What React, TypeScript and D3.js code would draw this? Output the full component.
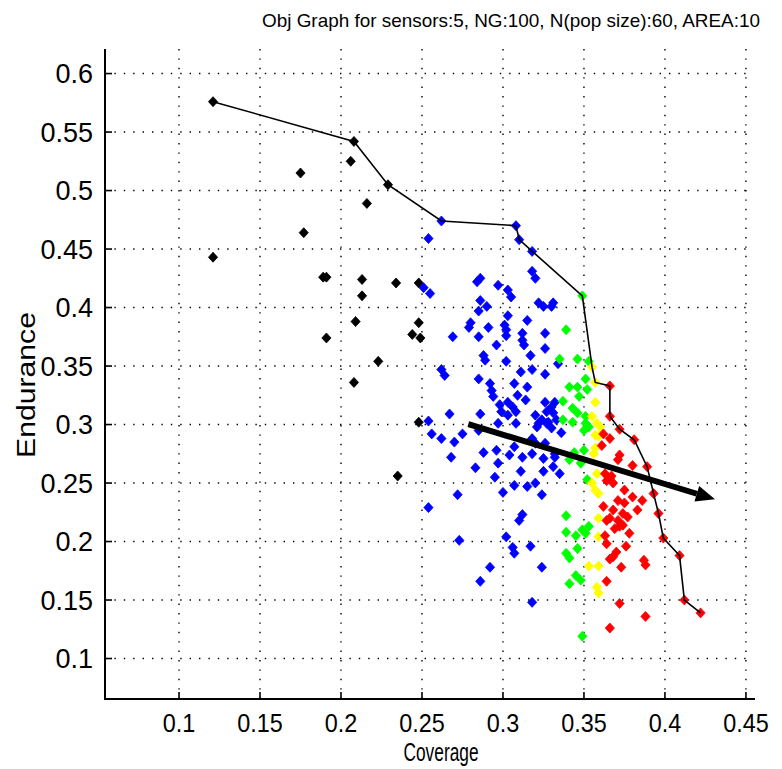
import React from "react";
import * as d3 from "d3";

const titleText = "Obj Graph for sensors:5, NG:100, N(pop size):60, AREA:10";
const xLabel = "Coverage";
const yLabel = "Endurance";
const xTicks = [0.1, 0.15, 0.2, 0.25, 0.3, 0.35, 0.4, 0.45];
const yTicks = [0.1, 0.15, 0.2, 0.25, 0.3, 0.35, 0.4, 0.45, 0.5, 0.55, 0.6];
const xTickLabels = ["0.1", "0.15", "0.2", "0.25", "0.3", "0.35", "0.4", "0.45"];
const yTickLabels = ["0.1", "0.15", "0.2", "0.25", "0.3", "0.35", "0.4", "0.45", "0.5", "0.55", "0.6"];

const blackPoints: [number, number][] = [
  [0.121, 0.576], [0.208, 0.542], [0.229, 0.505], [0.206, 0.525], [0.175, 0.515],
  [0.216, 0.489], [0.177, 0.464], [0.121, 0.443], [0.189, 0.426], [0.191, 0.426],
  [0.213, 0.424], [0.213, 0.410], [0.234, 0.421], [0.248, 0.421], [0.209, 0.388],
  [0.248, 0.387], [0.244, 0.377], [0.249, 0.374], [0.191, 0.374], [0.223, 0.354],
  [0.208, 0.336], [0.248, 0.302], [0.235, 0.256],
];

const bluePoints: [number, number][] = [
  [0.262, 0.474], [0.308, 0.470], [0.310, 0.458], [0.254, 0.459], [0.318, 0.448],
  [0.318, 0.431], [0.320, 0.425], [0.286, 0.425], [0.284, 0.422], [0.251, 0.417],
  [0.255, 0.412], [0.297, 0.419], [0.303, 0.415], [0.305, 0.409], [0.286, 0.406],
  [0.290, 0.401], [0.285, 0.397], [0.322, 0.404], [0.325, 0.401], [0.331, 0.404],
  [0.330, 0.401], [0.303, 0.393], [0.315, 0.389], [0.280, 0.387], [0.279, 0.383],
  [0.291, 0.383], [0.301, 0.385], [0.302, 0.381], [0.302, 0.376], [0.269, 0.375],
  [0.285, 0.375], [0.312, 0.378], [0.312, 0.372], [0.313, 0.368], [0.326, 0.378],
  [0.296, 0.368], [0.326, 0.365], [0.288, 0.359], [0.289, 0.355], [0.317, 0.359],
  [0.302, 0.354], [0.262, 0.347], [0.264, 0.342], [0.311, 0.345], [0.318, 0.347],
  [0.326, 0.343], [0.285, 0.339], [0.292, 0.335], [0.293, 0.329], [0.307, 0.335],
  [0.315, 0.332], [0.294, 0.324], [0.309, 0.325], [0.314, 0.321], [0.303, 0.319],
  [0.298, 0.317], [0.306, 0.315], [0.326, 0.319], [0.332, 0.319], [0.299, 0.311],
  [0.308, 0.311], [0.303, 0.308], [0.320, 0.308], [0.327, 0.311], [0.331, 0.310],
  [0.267, 0.309], [0.286, 0.309], [0.254, 0.303], [0.297, 0.301], [0.308, 0.301],
  [0.322, 0.301], [0.327, 0.301], [0.330, 0.297], [0.333, 0.304], [0.256, 0.292],
  [0.262, 0.288], [0.275, 0.292], [0.270, 0.285], [0.285, 0.295], [0.268, 0.272],
  [0.288, 0.276], [0.296, 0.278], [0.304, 0.274], [0.307, 0.281], [0.312, 0.272],
  [0.318, 0.288], [0.320, 0.284], [0.318, 0.275], [0.325, 0.271], [0.332, 0.272],
  [0.331, 0.264], [0.335, 0.258], [0.283, 0.263], [0.297, 0.267], [0.311, 0.260],
  [0.325, 0.260], [0.295, 0.255], [0.307, 0.248], [0.315, 0.247], [0.320, 0.250],
  [0.300, 0.242], [0.324, 0.240], [0.272, 0.240], [0.254, 0.229], [0.312, 0.223],
  [0.310, 0.218], [0.273, 0.201], [0.302, 0.204], [0.306, 0.195], [0.307, 0.190],
  [0.317, 0.196], [0.292, 0.178], [0.324, 0.178], [0.286, 0.166], [0.318, 0.148],
  [0.330, 0.315], [0.334, 0.352], [0.321, 0.298], [0.336, 0.293], [0.324, 0.304],
  [0.328, 0.302], [0.326, 0.284], [0.332, 0.275],
];

const greenPoints: [number, number][] = [
  [0.349, 0.410], [0.339, 0.381], [0.335, 0.356], [0.346, 0.356], [0.353, 0.354],
  [0.351, 0.339], [0.341, 0.332], [0.346, 0.332], [0.352, 0.330], [0.347, 0.324],
  [0.337, 0.320], [0.343, 0.314], [0.346, 0.310], [0.351, 0.307], [0.337, 0.304],
  [0.343, 0.302], [0.351, 0.301], [0.350, 0.295], [0.353, 0.298], [0.350, 0.278],
  [0.344, 0.276], [0.341, 0.270], [0.348, 0.267], [0.352, 0.253], [0.339, 0.222],
  [0.339, 0.208], [0.345, 0.205], [0.349, 0.210], [0.353, 0.213], [0.351, 0.207],
  [0.346, 0.194], [0.339, 0.190], [0.341, 0.186], [0.345, 0.171], [0.348, 0.167],
  [0.341, 0.164], [0.349, 0.119],
];

const yellowPoints: [number, number][] = [
  [0.355, 0.349], [0.357, 0.336], [0.357, 0.319], [0.355, 0.307], [0.358, 0.301],
  [0.360, 0.298], [0.357, 0.291], [0.359, 0.290], [0.357, 0.280], [0.356, 0.275],
  [0.358, 0.258], [0.355, 0.250], [0.357, 0.244], [0.359, 0.241], [0.359, 0.220],
  [0.359, 0.204], [0.353, 0.179], [0.359, 0.179], [0.358, 0.161], [0.359, 0.156],
];

const redPoints: [number, number][] = [
  [0.366, 0.333], [0.366, 0.307], [0.372, 0.296], [0.362, 0.292], [0.366, 0.288],
  [0.361, 0.282], [0.381, 0.287], [0.372, 0.274], [0.371, 0.270], [0.380, 0.265],
  [0.389, 0.264], [0.363, 0.258], [0.366, 0.254], [0.368, 0.250], [0.375, 0.244],
  [0.380, 0.238], [0.386, 0.235], [0.371, 0.235], [0.375, 0.233], [0.362, 0.230],
  [0.368, 0.227], [0.374, 0.224], [0.383, 0.227], [0.366, 0.220], [0.371, 0.218],
  [0.377, 0.221], [0.369, 0.211], [0.378, 0.207], [0.372, 0.213], [0.363, 0.205],
  [0.364, 0.198], [0.376, 0.196], [0.370, 0.191], [0.368, 0.187], [0.387, 0.184],
  [0.388, 0.180], [0.373, 0.178], [0.364, 0.166], [0.372, 0.147], [0.388, 0.136],
  [0.366, 0.126], [0.367, 0.256], [0.364, 0.252], [0.364, 0.218], [0.374, 0.214],
  [0.366, 0.185], [0.393, 0.241], [0.396, 0.224], [0.399, 0.203], [0.409, 0.188],
  [0.412, 0.150], [0.422, 0.139],
];

const frontPoints: [number, number][] = [
  [0.121, 0.576], [0.208, 0.542], [0.229, 0.505], [0.262, 0.474], [0.308, 0.470],
  [0.310, 0.458], [0.349, 0.410], [0.355, 0.349], [0.357, 0.336], [0.366, 0.333],
  [0.366, 0.307], [0.372, 0.296], [0.381, 0.287], [0.389, 0.264], [0.393, 0.241],
  [0.396, 0.224], [0.399, 0.203], [0.409, 0.188], [0.412, 0.150], [0.422, 0.139],
];

const arrowStart: [number, number] = [0.2786, 0.3004];
const arrowEnd: [number, number] = [0.4309, 0.2361];

const series: { pts: [number, number][]; color: string }[] = [
  { pts: blackPoints, color: "#000000" },
  { pts: bluePoints, color: "#0000ff" },
  { pts: greenPoints, color: "#00ff00" },
  { pts: yellowPoints, color: "#ffff00" },
  { pts: redPoints, color: "#ff0000" },
];

export default function App() {
  const W = 782, H = 769;
  const left = 105, right = 755, top = 49, bottom = 699;
  const x = d3.scaleLinear().domain([0.0543, 0.4556]).range([left, right]);
  const y = d3.scaleLinear().domain([0.0654, 0.621]).range([bottom, top]);
  const gridRight = x(0.4525);
  const font = "'Liberation Sans', Arial, sans-serif";
  const diamond = "M0,-5L4.6,0L0,5L-4.6,0Z";
  const line = d3.line<[number, number]>().x(d => x(d[0])).y(d => y(d[1]));

  const ax0 = x(arrowStart[0]), ay0 = y(arrowStart[1]);
  const ax1 = x(arrowEnd[0]), ay1 = y(arrowEnd[1]);
  const ang = Math.atan2(ay1 - ay0, ax1 - ax0);
  const headLen = 19, headHalf = 8;
  const bx = ax1 - headLen * Math.cos(ang), by = ay1 - headLen * Math.sin(ang);
  const px = -Math.sin(ang), py = Math.cos(ang);
  const head = `M${ax1},${ay1}L${bx + px * headHalf},${by + py * headHalf}L${bx - px * headHalf},${by - py * headHalf}Z`;

  return (
    <svg width={W} height={H} style={{ position: "absolute", left: 0, top: 0, background: "#fff" }} fontFamily={font}>
      <rect x={0} y={0} width={W} height={H} fill="#fff" />
      {xTicks.map((t, i) => (
        <line key={"gx" + i} x1={x(t)} x2={x(t)} y1={top} y2={bottom} stroke="#000" strokeWidth={1.4} strokeDasharray="1.4 8" />
      ))}
      {yTicks.map((t, i) => (
        <line key={"gy" + i} x1={left} x2={gridRight} y1={y(t)} y2={y(t)} stroke="#000" strokeWidth={1.4} strokeDasharray="1.4 8" />
      ))}
      {series.map((s, si) => (
        <g key={"s" + si} fill={s.color} stroke={s.color} strokeWidth={0.8}>
          {s.pts.map((p, i) => (
            <path key={i} d={diamond} transform={`translate(${x(p[0])},${y(p[1])})`} />
          ))}
        </g>
      ))}
      <path d={line(frontPoints) || ""} fill="none" stroke="#000" strokeWidth={1.6} />
      <line x1={ax0} y1={ay0} x2={bx} y2={by} stroke="#000" strokeWidth={6} />
      <path d={head} fill="#000" />
      <line x1={left} x2={left} y1={top} y2={bottom + 1} stroke="#000" strokeWidth={2} />
      <line x1={left} x2={right} y1={bottom} y2={bottom} stroke="#000" strokeWidth={2} />
      {xTicks.map((t, i) => (
        <g key={"xt" + i}>
          <line x1={x(t)} x2={x(t)} y1={bottom} y2={bottom - 7} stroke="#000" strokeWidth={1.6} />
          <text x={x(t)} y={732} textAnchor="middle" fontSize={26}
            transform={`translate(${x(t)},0) scale(0.9,1) translate(${-x(t)},0)`}>{xTickLabels[i]}</text>
        </g>
      ))}
      {yTicks.map((t, i) => (
        <g key={"yt" + i}>
          <line x1={left} x2={left + 7} y1={y(t)} y2={y(t)} stroke="#000" strokeWidth={1.6} />
          <text x={93} y={y(t)} dy="0.36em" textAnchor="end" fontSize={27}>{yTickLabels[i]}</text>
        </g>
      ))}
      <text x={760} y={27} textAnchor="end" fontSize={19} textLength={498} lengthAdjust="spacingAndGlyphs">{titleText}</text>
      <text x={441} y={761} textAnchor="middle" fontSize={26} textLength={75} lengthAdjust="spacingAndGlyphs">{xLabel}</text>
      <text transform={`translate(35,385) rotate(-90)`} textAnchor="middle" fontSize={25} textLength={146} lengthAdjust="spacingAndGlyphs">{yLabel}</text>
    </svg>
  );
}
